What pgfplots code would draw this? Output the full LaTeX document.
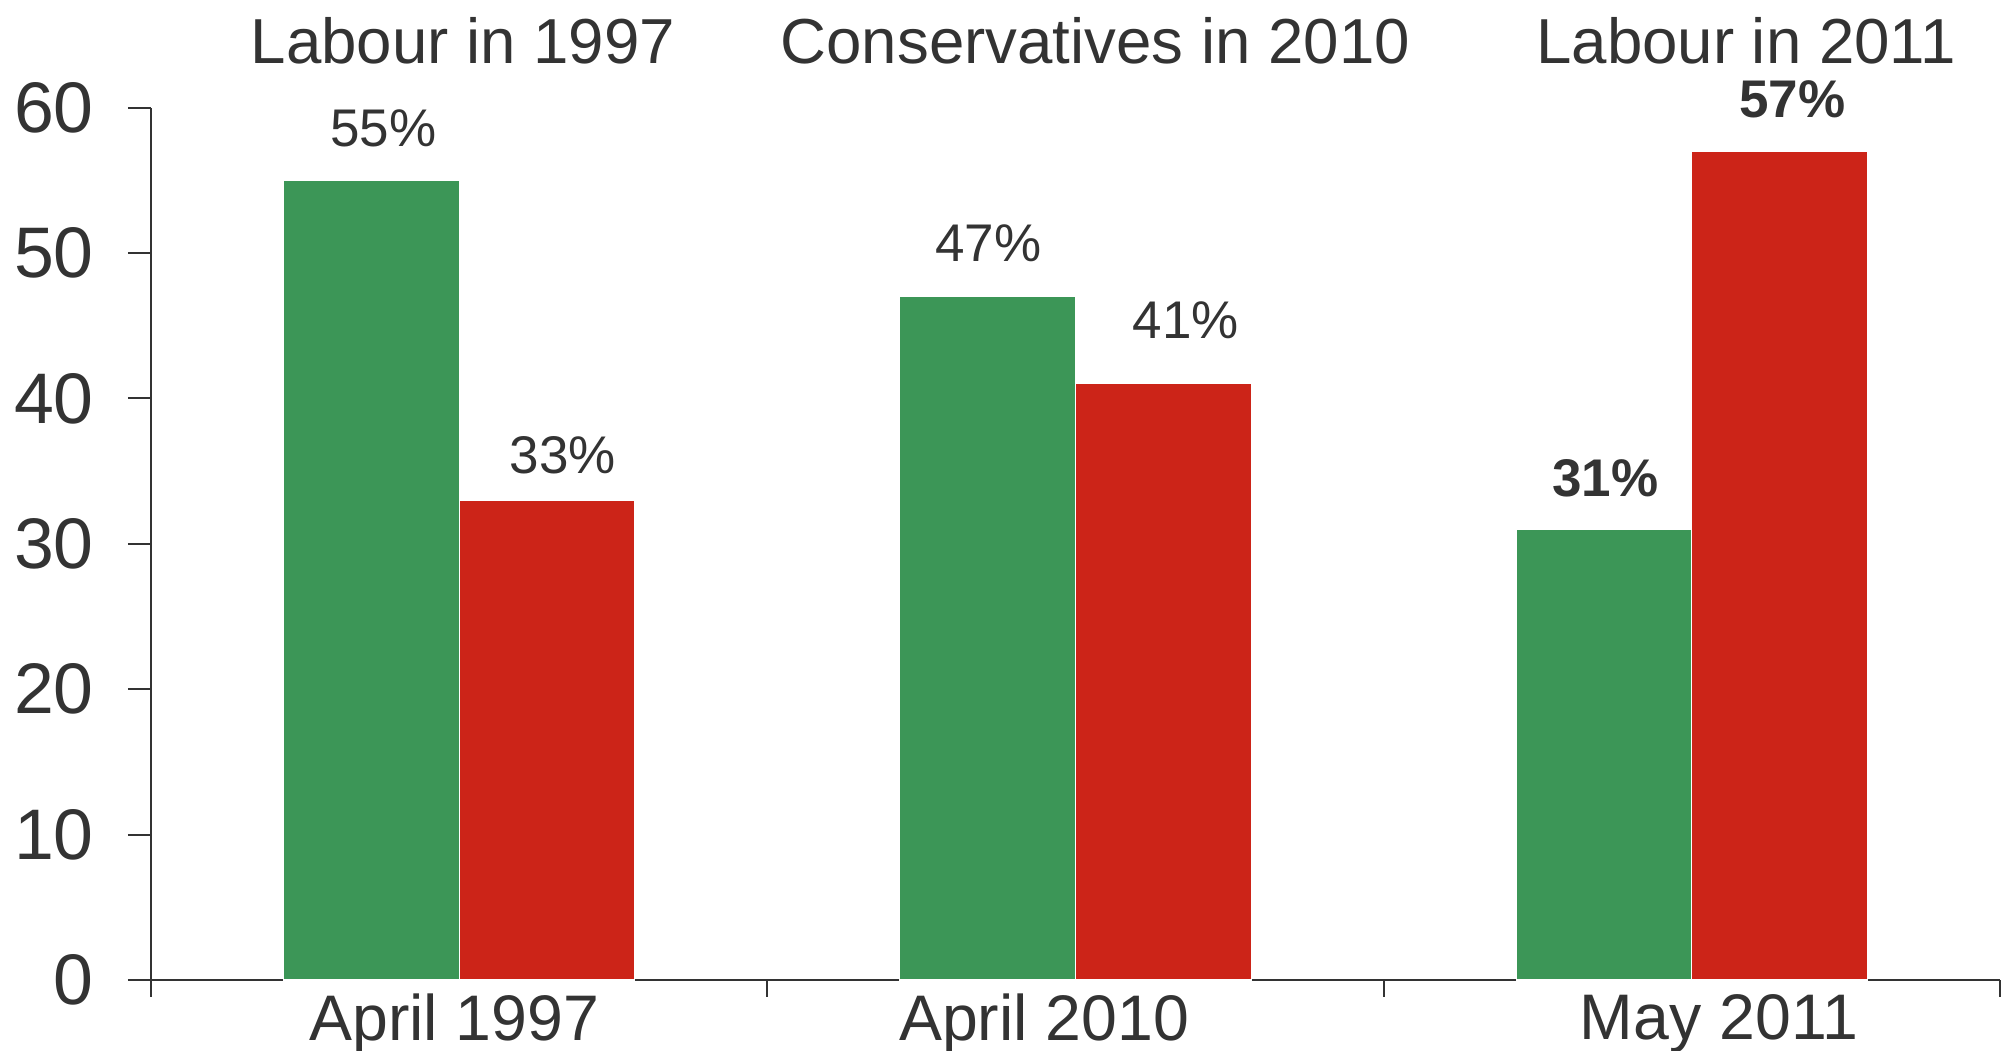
\documentclass[border=0pt]{standalone}
\usepackage{pgfplots}
\pgfplotsset{compat=1.18}
\usepackage{fontspec}
\setmainfont{Liberation Sans}
\definecolor{mygreen}{HTML}{3C9657}
\definecolor{myred}{HTML}{CC2418}
\definecolor{txt}{HTML}{333333}
\begin{document}
\begin{tikzpicture}
\begin{axis}[
  at={(0,0)}, anchor=south west,
  scale only axis, width=462.25pt, height=218.1pt,
  xmin=-0.5, xmax=2.5, ymin=0, ymax=60,
  axis lines*=left,
  axis line style={txt, line width=0.5pt},
  clip=false,
  tick align=outside,
  ytick={0,10,20,30,40,50,60},
  y tick style={txt, line width=0.5pt},
  xtick={-0.008,0.949,2.044},
  xticklabels={\raisebox{-1.3pt}{April 1997}, April 2010, May 2011},
  x tick style={draw=none},
  minor xtick={-0.5,0.5,1.5,2.5},
  minor x tick style={draw=txt, line width=0.5pt},
  minor tick length=4.2pt,
  major tick length=5.8pt,
  /pgf/number format/assume math mode=true,
  yticklabel style={font=\fontsize{17.9pt}{20pt}\selectfont, text=txt, xshift=-5pt},
  xticklabel style={font=\fontsize{16.1pt}{18pt}\selectfont, text=txt, anchor=north, yshift=5.8pt},
]
\addplot[ybar, bar width=0.285, bar shift=-0.1425, fill=mygreen, draw=white, line width=0.3pt]
  coordinates {(0,55) (1,47) (2,31)};
\addplot[ybar, bar width=0.285, bar shift=0.1425, fill=myred, draw=white, line width=0.3pt]
  coordinates {(0,33) (1,41) (2,57)};
\begin{scope}[every node/.style={text=txt, font=\fontsize{13.25pt}{15pt}\selectfont}]
\node at (axis cs:-0.1227,58.6) {55\%};
\node at (axis cs:0.1684,36.1) {33\%};
\node at (axis cs:0.8586,50.7) {47\%};
\node at (axis cs:1.1788,45.4) {41\%};
\node[font=\fontsize{13.25pt}{15pt}\selectfont\bfseries] at (axis cs:1.8597,34.5) {31\%};
\node[font=\fontsize{13.25pt}{15pt}\selectfont\bfseries] at (axis cs:2.1632,60.6) {57\%};
\end{scope}
\begin{scope}[every node/.style={text=txt, font=\fontsize{15.9pt}{18pt}\selectfont}]
\node at (axis cs:0.006,64.6) {Labour in 1997};
\node at (axis cs:1.032,64.6) {Conservatives in 2010};
\node at (axis cs:2.088,64.6) {Labour in 2011};
\end{scope}
\end{axis}
\pgfresetboundingbox
\useasboundingbox (-37.75pt,-17.5pt) rectangle (464.25pt,245pt);
\end{tikzpicture}
\end{document}
